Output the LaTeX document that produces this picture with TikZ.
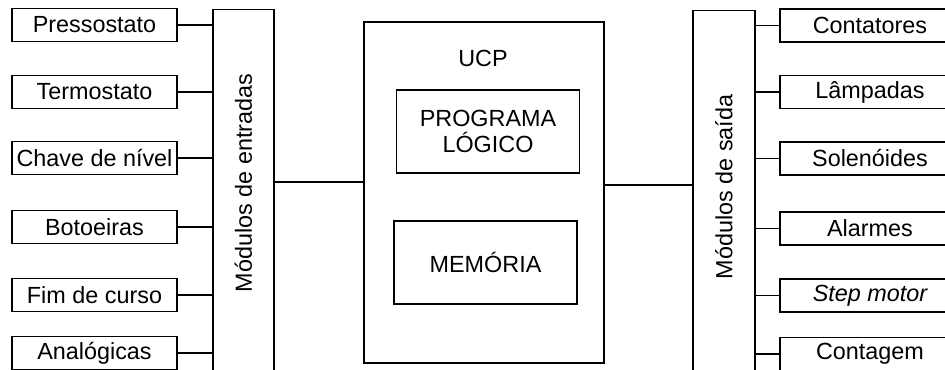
\documentclass[tikz,border=0pt]{standalone}
\usepackage{fontspec}
\setmainfont{Liberation Sans}
\usepackage{tikz}
\usetikzlibrary{positioning,calc}

\begin{document}
\begin{tikzpicture}[
  font=\fontsize{13.3}{15}\selectfont,
  dev/.style={draw, line width=0.8pt, minimum width=3.3cm, minimum height=0.66cm, inner sep=0pt},
  outdev/.style={dev, minimum width=3.6cm},
  modbox/.style={draw, line width=0.8pt, minimum width=1.22cm, minimum height=7.5cm, anchor=north},
  inbox/.style={draw, line width=0.8pt, minimum width=3.66cm, minimum height=1.66cm, align=center, inner sep=0pt},
  wire/.style={line width=0.8pt}
]
\clip (0,0) rectangle (18.9,7.38);

% entradas
\node[dev] (press) at (1.89,6.88) {Pressostato};
\node[dev] (termo) at (1.89,5.54) {Termostato};
\node[dev] (chave) at (1.89,4.22) {Chave de nível};
\node[dev] (boto) at (1.89,2.84) {Botoeiras};
\node[dev] (fim) at (1.89,1.48) {Fim de curso};
\node[dev] (analog) at (1.89,0.32) {Analógicas};

\node[modbox] (entr) at (4.87,7.2) {};
\node[rotate=90] (entrtxt) at (4.87,3.72) {Módulos de entradas};

% UCP
\node[draw, line width=0.8pt, minimum width=4.8cm, minimum height=6.82cm] (ucp) at (9.68,3.53) {};
\node (ucptxt) at (9.66,6.22) {UCP};
\node[inbox] (prog) at (9.76,4.75) {PROGRAMA\\LÓGICO};
\node[inbox] (mem) at (9.71,2.13) {MEMÓRIA};

% saidas
\node[modbox, minimum width=1.24cm] (said) at (14.48,7.18) {};
\node[rotate=90] (saidtxt) at (14.48,3.64) {Módulos de saída};

\node[outdev] (cont) at (17.4,6.87) {Contatores};
\node[outdev] (lamp) at (17.4,5.54) {Lâmpadas};
\node[outdev] (sole) at (17.4,4.21) {Solenóides};
\node[outdev] (alar) at (17.4,2.81) {Alarmes};
\node[outdev] (step) at (17.4,1.47) {\itshape Step motor};
\node[outdev] (contg) at (17.4,0.30) {Contagem};

% ligacoes
\draw[wire] (press.east) -- (entr.west |- press.east);
\draw[wire] (termo.east) -- (entr.west |- termo.east);
\draw[wire] (chave.east) -- (entr.west |- chave.east);
\draw[wire] (boto.east) -- (entr.west |- boto.east);
\draw[wire] (fim.east) -- (entr.west |- fim.east);
\draw[wire] (analog.east) -- (entr.west |- analog.east);

\coordinate (busl) at (0,3.74);
\coordinate (busr) at (0,3.68);
\draw[wire] (entr.east |- busl) -- (ucp.west |- busl);
\draw[wire] (ucp.east |- busr) -- (said.west |- busr);

\draw[wire] (said.east |- cont.west) -- (cont.west);
\draw[wire] (said.east |- lamp.west) -- (lamp.west);
\draw[wire] (said.east |- sole.west) -- (sole.west);
\draw[wire] (said.east |- alar.west) -- (alar.west);
\draw[wire] (said.east |- step.west) -- (step.west);
\draw[wire] (said.east |- contg.west) -- (contg.west);
\end{tikzpicture}
\end{document}
